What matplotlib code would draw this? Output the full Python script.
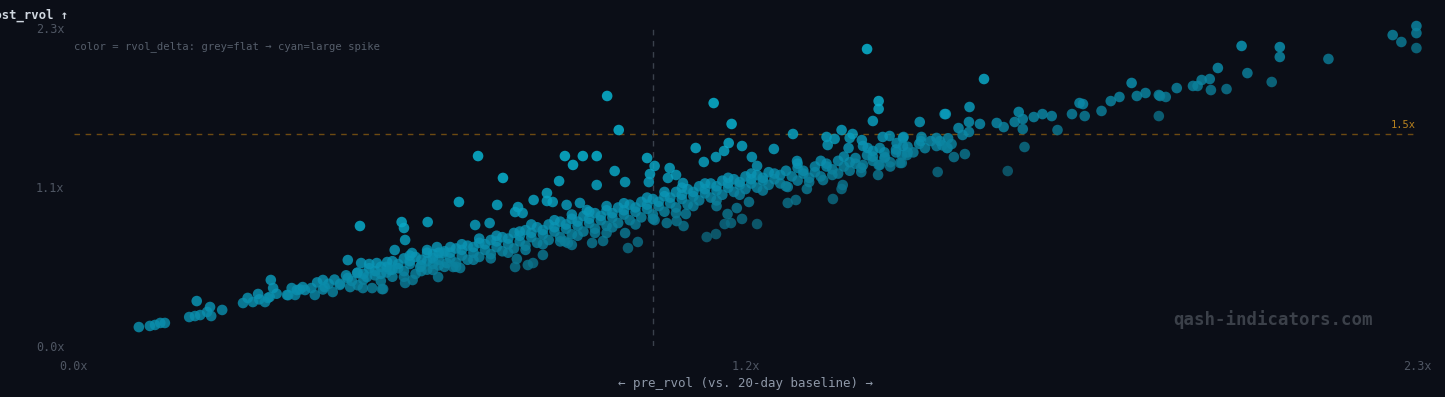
import matplotlib
matplotlib.use("Agg")
import matplotlib.pyplot as plt
import numpy as np
from matplotlib.colors import LinearSegmentedColormap, Normalize

# (pre_rvol, post_rvol) pairs, grouped by region
tail_pts = [
    (0.112, 0.134), (0.131, 0.142), (0.140, 0.149), (0.149, 0.163), (0.157, 0.163),
    (0.199, 0.205), (0.209, 0.212), (0.218, 0.219), (0.212, 0.318), (0.230, 0.241),
    (0.235, 0.276), (0.237, 0.212), (0.256, 0.255), (0.292, 0.304), (0.309, 0.311),
    (0.318, 0.368), (0.330, 0.311), (0.335, 0.340), (0.340, 0.467), (0.344, 0.410),
    (0.338, 0.347), (0.368, 0.361), (0.376, 0.410), (0.382, 0.361), (0.385, 0.396),
    (0.395, 0.417), (0.399, 0.396), (0.416, 0.361), (0.430, 0.467), (0.433, 0.417),
    (0.447, 0.382), (0.459, 0.432), (0.473, 0.608), (0.473, 0.481), (0.477, 0.417),
    (0.494, 0.849), (0.496, 0.587), (0.489, 0.516), (0.499, 0.410), (0.506, 0.488),
    (0.515, 0.410), (0.523, 0.587), (0.532, 0.403), (0.541, 0.594), (0.546, 0.538),
    (0.554, 0.679), (0.566, 0.877), (0.570, 0.835), (0.572, 0.750), (0.572, 0.446),
    (0.584, 0.658), (0.585, 0.467), (0.598, 0.559), (0.611, 0.877), (0.610, 0.679),
    (0.620, 0.538), (0.627, 0.700), (0.629, 0.488), (0.637, 0.658), (0.644, 0.587),
    (0.667, 0.552), (0.655, 0.559), (0.534, 0.403),
]

core_pts = [
    (0.46, 0.44), (0.47, 0.50), (0.48, 0.46), (0.49, 0.52), (0.50, 0.47), (0.51, 0.55),
    (0.52, 0.50), (0.53, 0.46), (0.53, 0.56), (0.54, 0.52), (0.55, 0.60), (0.55, 0.49),
    (0.56, 0.55), (0.57, 0.62), (0.57, 0.53), (0.58, 0.58), (0.59, 0.51), (0.59, 0.63),
    (0.60, 0.57), (0.61, 0.60), (0.61, 0.54), (0.62, 0.65), (0.62, 0.58), (0.63, 0.61),
    (0.64, 0.56), (0.64, 0.67), (0.65, 0.62), (0.66, 0.59), (0.66, 0.69), (0.67, 0.64),
    (0.68, 0.61), (0.68, 0.71), (0.69, 0.66), (0.70, 0.63), (0.70, 0.73), (0.71, 0.68),
    (0.72, 0.65), (0.72, 0.75), (0.73, 0.70), (0.74, 0.67), (0.74, 0.77), (0.75, 0.72),
    (0.76, 0.69), (0.76, 0.80), (0.77, 0.74), (0.78, 0.71), (0.78, 0.82), (0.79, 0.77),
    (0.80, 0.73), (0.80, 0.84), (0.81, 0.79), (0.82, 0.75), (0.82, 0.86), (0.83, 0.81),
    (0.84, 0.77), (0.84, 0.88), (0.85, 0.83), (0.86, 0.79), (0.86, 0.90), (0.87, 0.85),
    (0.88, 0.81), (0.88, 0.92), (0.89, 0.87), (0.90, 0.83), (0.90, 0.94), (0.91, 0.89),
    (0.92, 0.85), (0.92, 0.96), (0.93, 0.91), (0.94, 0.87), (0.94, 0.98), (0.95, 0.93),
    (0.96, 0.89), (0.96, 1.00), (0.97, 0.95), (0.98, 0.91), (0.98, 1.02), (0.99, 0.97),
    (1.00, 0.93), (1.00, 1.04), (1.01, 0.99), (1.02, 0.95), (1.02, 1.06), (1.03, 1.01),
    (1.04, 0.98), (1.04, 1.09), (1.05, 1.04), (1.06, 1.00), (1.06, 1.11), (1.07, 1.06),
    (1.08, 1.03), (1.08, 1.13), (1.09, 1.08), (1.10, 1.05), (1.10, 1.15), (1.11, 1.10),
    (1.12, 1.07), (1.12, 1.17), (1.13, 1.12), (1.14, 1.09), (1.14, 1.18), (1.15, 1.14),
    (1.16, 1.11), (1.16, 1.20), (1.17, 1.15), (1.18, 1.12), (1.18, 1.21), (1.19, 1.17),
    (1.20, 1.14), (1.21, 1.22), (1.21, 1.18), (1.22, 1.15), (1.23, 1.24), (1.24, 1.20),
    (1.25, 1.17), (1.25, 1.26), (1.26, 1.22), (1.27, 1.19), (1.28, 1.27), (1.28, 1.23),
    (1.29, 1.20), (1.30, 1.29), (1.31, 1.25), (1.32, 1.22), (1.32, 1.31), (1.33, 1.27),
    (1.34, 1.24), (1.35, 1.33), (1.35, 1.29), (1.36, 1.26), (1.37, 1.35), (1.38, 1.31),
    (1.39, 1.28), (1.40, 1.37), (1.40, 1.33), (1.41, 1.30), (1.42, 1.39), (1.43, 1.35),
    (1.44, 1.41), (1.45, 1.37), (1.46, 1.43), (1.47, 1.40), (1.48, 1.45), (1.50, 1.42),
    (1.51, 1.47),
    (0.50, 0.51), (0.52, 0.53), (0.54, 0.56), (0.56, 0.58), (0.58, 0.60), (0.60, 0.61),
    (0.62, 0.62), (0.63, 0.66), (0.65, 0.66), (0.67, 0.68), (0.69, 0.70), (0.71, 0.72),
    (0.73, 0.74), (0.75, 0.76), (0.77, 0.78), (0.79, 0.80), (0.81, 0.82), (0.83, 0.84),
    (0.85, 0.86), (0.87, 0.88), (0.89, 0.90), (0.91, 0.92), (0.93, 0.94), (0.95, 0.96),
    (0.97, 0.98), (0.99, 1.00), (1.01, 1.02), (1.03, 1.05), (1.05, 1.07), (1.07, 1.09),
    (1.09, 1.11), (1.11, 1.13), (1.13, 1.15), (1.15, 1.16), (1.17, 1.18), (1.19, 1.19),
    (1.22, 1.21), (1.26, 1.24), (1.30, 1.27), (1.34, 1.30), (1.38, 1.34), (1.42, 1.37),
    (0.30, 0.34), (0.32, 0.33), (0.35, 0.37), (0.37, 0.36), (0.39, 0.40), (0.41, 0.41),
    (0.42, 0.45), (0.43, 0.40), (0.44, 0.44), (0.45, 0.47),
    (0.49, 0.43), (0.51, 0.58), (0.53, 0.51), (0.55, 0.54), (0.57, 0.49), (0.58, 0.64),
    (0.60, 0.53), (0.61, 0.66), (0.63, 0.57), (0.65, 0.70), (0.66, 0.56), (0.67, 0.72),
    (0.69, 0.61), (0.70, 0.76), (0.72, 0.62), (0.73, 0.78), (0.75, 0.66), (0.77, 0.81),
    (0.78, 0.68), (0.79, 0.86), (0.81, 0.72), (0.83, 0.89), (0.84, 0.74), (0.86, 0.93),
    (0.87, 0.78), (0.89, 0.95), (0.90, 0.80), (0.92, 0.99), (0.93, 0.84), (0.95, 1.01),
    (0.97, 0.86), (0.99, 1.05), (1.00, 0.90), (1.02, 1.09), (1.04, 0.94), (1.05, 1.12),
    (1.07, 0.99), (1.09, 1.15), (1.11, 1.03), (1.13, 1.19), (1.15, 1.07), (1.17, 1.22),
    (1.19, 1.10), (1.20, 1.23), (1.23, 1.13), (1.25, 1.29), (1.27, 1.16), (1.29, 1.31),
    (1.31, 1.21), (1.33, 1.34), (1.36, 1.23), (1.38, 1.38), (1.41, 1.27), (1.44, 1.37),
]

spike_pts = [
    (0.698, 1.344), (0.741, 1.189), (0.665, 1.019), (0.848, 1.344), (0.879, 1.344),
    (0.903, 1.344), (0.862, 1.281), (0.838, 1.167), (0.990, 1.330), (1.003, 1.274),
    (0.934, 1.238), (0.952, 1.160), (0.903, 1.139), (0.995, 1.217), (0.993, 1.160),
    (1.029, 1.259), (1.040, 1.210), (1.026, 1.189), (0.817, 1.082), (0.817, 1.026),
    (0.794, 1.033), (0.731, 0.998), (0.767, 0.983), (0.762, 0.948), (0.775, 0.941),
    (0.693, 0.856), (0.718, 0.870), (0.827, 1.019), (0.874, 1.012), (0.886, 0.962),
    (0.851, 0.998), (0.921, 1.769), (0.941, 1.528), (1.370, 2.101), (1.105, 1.719),
    (1.136, 1.571), (1.242, 1.500), (1.326, 1.528), (1.390, 1.733), (1.390, 1.677),
    (1.380, 1.592), (1.461, 1.585), (1.504, 1.641), (1.074, 1.401), (1.088, 1.302),
    (1.109, 1.337), (1.123, 1.380), (1.131, 1.436), (1.154, 1.415), (1.171, 1.337),
    (1.180, 1.274), (1.209, 1.394), (1.249, 1.309), (1.300, 1.479), (1.302, 1.422),
    (1.314, 1.465), (1.340, 1.472), (1.345, 1.500), (1.338, 1.401), (1.361, 1.457),
    (1.363, 1.415), (1.371, 1.401), (1.397, 1.479), (1.409, 1.486), (1.392, 1.401),
    (1.401, 1.337), (1.421, 1.436), (1.432, 1.472), (1.439, 1.351), (1.427, 1.295),
    (1.490, 1.472), (1.490, 1.415), (1.508, 1.401), (1.389, 1.210), (1.392, 1.281),
    (1.363, 1.281), (1.052, 1.153),
]

dip_pts = [
    (0.765, 0.616), (0.762, 0.559), (0.784, 0.573), (0.793, 0.587), (0.810, 0.644),
    (0.853, 0.729), (0.860, 0.715), (0.848, 0.740), (0.895, 0.729), (0.914, 0.743),
    (0.920, 0.799), (0.957, 0.693), (0.974, 0.736), (0.952, 0.799), (1.024, 0.870),
    (1.041, 0.884), (1.003, 0.891), (1.053, 0.849), (1.057, 0.934), (1.093, 0.771),
    (1.109, 0.792), (1.124, 0.863), (1.135, 0.870), (1.129, 0.934), (1.110, 0.990),
    (1.145, 0.976), (1.154, 0.899), (1.166, 1.019), (1.180, 0.863), (1.233, 1.012),
    (1.247, 1.033), (1.233, 1.125), (1.266, 1.111), (1.311, 1.040), (1.326, 1.111),
    (1.328, 1.139), (1.294, 1.174), (1.492, 1.231), (1.613, 1.238),
]

high_pts = [
    (1.572, 1.889), (1.506, 1.641), (1.547, 1.691), (1.546, 1.585), (1.565, 1.571),
    (1.528, 1.542), (1.535, 1.493), (1.546, 1.514), (1.594, 1.578), (1.606, 1.549),
    (1.625, 1.585), (1.632, 1.656), (1.639, 1.606), (1.639, 1.535), (1.642, 1.408),
    (1.658, 1.620), (1.673, 1.641), (1.689, 1.627), (1.699, 1.528), (1.724, 1.641),
    (1.737, 1.719), (1.743, 1.712), (1.746, 1.627), (1.775, 1.663), (1.791, 1.733),
    (1.806, 1.762), (1.827, 1.861), (1.836, 1.769), (1.851, 1.790), (1.874, 1.776),
    (1.886, 1.762), (1.874, 1.627), (1.905, 1.825), (1.933, 1.840), (1.941, 1.840),
    (1.433, 1.479), (1.432, 1.415), (1.430, 1.295), (1.464, 1.479), (1.463, 1.450),
    (1.496, 1.450), (1.509, 1.401), (1.516, 1.429), (1.520, 1.337), (1.539, 1.358),
    (1.876, 1.769), (1.948, 1.882), (1.962, 1.889), (1.964, 1.811), (1.976, 1.967),
    (1.991, 1.818), (2.017, 2.123), (2.027, 1.931), (2.069, 1.868), (2.083, 2.115),
    (2.083, 2.045), (2.167, 2.031), (2.278, 2.200), (2.293, 2.151), (2.319, 2.264),
    (2.319, 2.214), (2.319, 2.108),
]

x_ticks = [0.0, 1.16, 2.32]
x_labels = ["0.0x", "1.2x", "2.3x"]
y_ticks = [0.0, 1.125, 2.25]
y_labels = ["0.0x", "1.1x", "2.3x"]
threshold = 1.5
pre_ref = 1.0

pts = np.array(core_pts + tail_pts + dip_pts + spike_pts + high_pts)
pre = pts[:, 0]
post = pts[:, 1]
delta = post - pre

plt.rcParams['font.family'] = ['DejaVu Sans Mono']
bg = '#0b0e17'

fig = plt.figure(figsize=(14.45, 3.97), dpi=100, facecolor=bg)
ax = fig.add_axes([74 / 1445, 51 / 397, 1343 / 1445, 318 / 397])
ax.set_facecolor(bg)
for s in ax.spines.values():
    s.set_visible(False)

cmap = LinearSegmentedColormap.from_list('rv', ['#0d6176', '#0a94b4', '#08bad8'])
ax.scatter(pre, post, c=delta, cmap=cmap, norm=Normalize(-0.35, 0.45),
           s=58, alpha=0.82, edgecolors='none', clip_on=False, zorder=3)

ax.axhline(threshold, color='#f59e0b', alpha=0.42, lw=1, ls=(0, (4, 4)), zorder=1)
ax.axvline(pre_ref, color='#3a414c', lw=1, ls=(0, (4, 4)), zorder=1)
ax.text(2.318, threshold + 0.03, "1.5x", color='#b8821f', fontsize=7.5,
        ha='right', va='bottom')

ax.set_xlim(0, 2.32)
ax.set_ylim(0, 2.25)
ax.set_xticks(x_ticks, x_labels)
ax.set_yticks(y_ticks, y_labels)
ax.tick_params(length=0, colors='#4f5663', labelsize=8.5)
ax.tick_params(axis='x', pad=10)
ax.tick_params(axis='y', pad=7)

ax.text(0.0, 2.12, "color = rvol_delta: grey=flat \u2192 cyan=large spike",
        color='#565e6b', fontsize=7.6, ha='left', va='center')

fig.text(746 / 1445, 1 - 383 / 397, "\u2190 pre_rvol (vs. 20-day baseline) \u2192",
         color='#8e98a8', fontsize=9, ha='center', va='center')
# y label sits partly off the left edge, as in the source chart
fig.text(68 / 1445, 1 - 15 / 397, "post_rvol \u2191", color='#d0d7e0',
         fontsize=8.8, fontweight='bold', ha='right', va='center')
fig.text(1273 / 1445, 1 - 320 / 397, "qash-indicators.com", color='#3b4049',
         fontsize=12.5, fontweight='bold', ha='center', va='center')

fig.savefig('out.png', dpi=100, facecolor=bg)
